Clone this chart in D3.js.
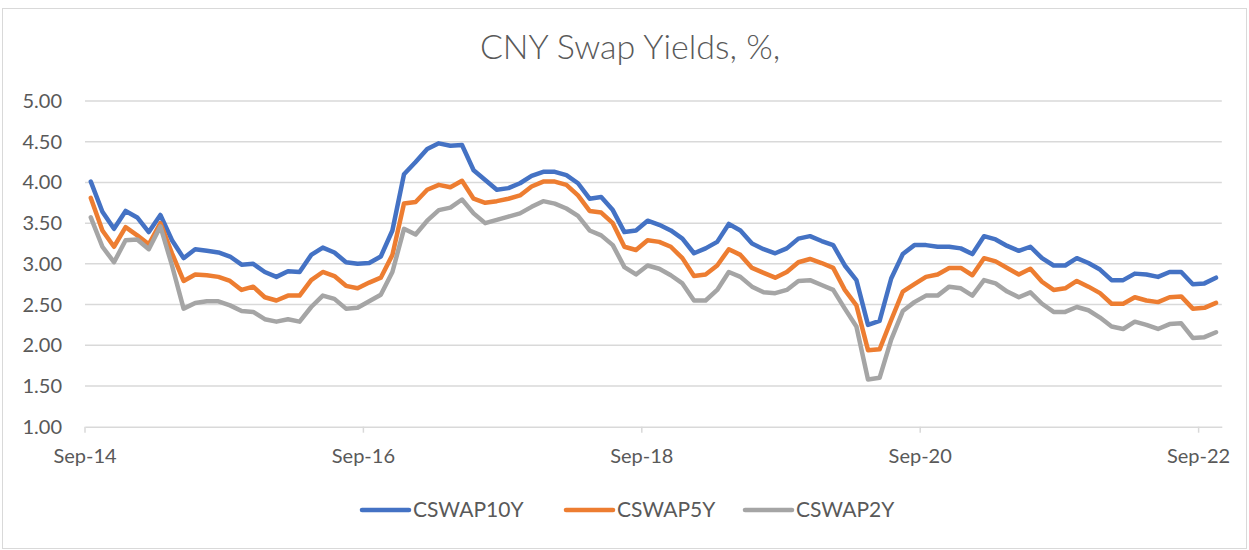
<!DOCTYPE html>
<html>
<head>
<meta charset="utf-8">
<script src="https://cdn.jsdelivr.net/npm/d3@7"></script>
<style>
  body { margin: 0; background: #fff; }
  svg text { font-family: Lato, "Open Sans", sans-serif; fill: #595959; }
</style>
</head>
<body>
<svg id="chart" width="1249" height="550"></svg>
<script>
// monthly observations, Sep-14 .. Oct-22
var startMonth = new Date(2014, 8, 1);
var endMonth = new Date(2022, 10, 1);

var cswap10y = [
  4.01, 3.64, 3.43, 3.65, 3.57, 3.39, 3.60, 3.29, 3.07, 3.18,
  3.16, 3.14, 3.09, 2.99, 3.00, 2.90, 2.84, 2.91, 2.90, 3.11,
  3.20, 3.14, 3.02, 3.00, 3.01, 3.09, 3.41, 4.10, 4.25, 4.41,
  4.48, 4.45, 4.46, 4.15, 4.03, 3.91, 3.93, 3.99, 4.08, 4.13,
  4.13, 4.09, 3.99, 3.80, 3.82, 3.66, 3.39, 3.41, 3.53, 3.48,
  3.41, 3.31, 3.13, 3.19, 3.27, 3.49, 3.41, 3.25, 3.18, 3.13,
  3.19, 3.31, 3.34, 3.28, 3.23, 2.98, 2.80, 2.25, 2.30, 2.82,
  3.12, 3.23, 3.23, 3.21, 3.21, 3.19, 3.12, 3.34, 3.30, 3.22,
  3.16, 3.21, 3.07, 2.98, 2.98, 3.07, 3.01, 2.93, 2.80, 2.80,
  2.88, 2.87, 2.84, 2.90, 2.90, 2.75, 2.76, 2.83
];
var cswap5y = [
  3.81, 3.41, 3.21, 3.45, 3.35, 3.24, 3.50, 3.13, 2.79, 2.87,
  2.86, 2.84, 2.79, 2.68, 2.72, 2.59, 2.55, 2.61, 2.61, 2.80,
  2.90, 2.85, 2.73, 2.70, 2.77, 2.83, 3.11, 3.74, 3.76, 3.91,
  3.97, 3.94, 4.02, 3.80, 3.75, 3.77, 3.80, 3.84, 3.95, 4.01,
  4.01, 3.97, 3.84, 3.65, 3.63, 3.50, 3.21, 3.17, 3.29, 3.27,
  3.21, 3.07, 2.85, 2.87, 2.98, 3.18, 3.11, 2.95, 2.89, 2.83,
  2.90, 3.02, 3.06, 3.01, 2.95, 2.68, 2.49, 1.94, 1.95, 2.31,
  2.66, 2.75, 2.84, 2.87, 2.95, 2.95, 2.86, 3.07, 3.03, 2.95,
  2.87, 2.94, 2.78, 2.68, 2.70, 2.79, 2.72, 2.64, 2.51, 2.51,
  2.59, 2.55, 2.53, 2.59, 2.60, 2.45, 2.46, 2.52
];
var cswap2y = [
  3.57, 3.21, 3.02, 3.29, 3.30, 3.18, 3.46, 2.98, 2.45, 2.52,
  2.54, 2.54, 2.49, 2.42, 2.41, 2.32, 2.29, 2.32, 2.29, 2.47,
  2.61, 2.57, 2.45, 2.46, 2.54, 2.62, 2.90, 3.43, 3.36, 3.53,
  3.66, 3.69, 3.79, 3.62, 3.50, 3.54, 3.58, 3.62, 3.70, 3.77,
  3.74, 3.68, 3.59, 3.41, 3.35, 3.23, 2.96, 2.87, 2.98, 2.94,
  2.86, 2.76, 2.55, 2.55, 2.68, 2.90, 2.84, 2.72, 2.65, 2.64,
  2.68, 2.79, 2.80, 2.74, 2.68, 2.45, 2.23, 1.58, 1.60, 2.07,
  2.42, 2.53, 2.61, 2.61, 2.72, 2.70, 2.61, 2.80, 2.76, 2.66,
  2.59, 2.65, 2.51, 2.41, 2.41, 2.47, 2.43, 2.34, 2.23, 2.20,
  2.29, 2.25, 2.20, 2.26, 2.27, 2.09, 2.10, 2.16
];

var seriesNames = ["CSWAP10Y", "CSWAP5Y", "CSWAP2Y"];
var seriesColors = ["#4472C4", "#ED7D31", "#A5A5A5"];
var yTicks = [1.00, 1.50, 2.00, 2.50, 3.00, 3.50, 4.00, 4.50, 5.00];
var xTickLabels = ["Sep-14", "Sep-16", "Sep-18", "Sep-20", "Sep-22"];

var svg = d3.select("#chart");
var fmtMonth = d3.timeFormat("%b-%y");
var months = d3.timeMonth.range(startMonth, endMonth);

var x = d3.scaleBand().domain(months.map(fmtMonth)).range([85, 1221.8]).padding(0);
var y = d3.scaleLinear().domain([1, 5]).range([426.7, 101]);

// outer frame
svg.append("rect")
  .attr("x", 2.5).attr("y", 8.5).attr("width", 1244).attr("height", 540)
  .attr("fill", "none").attr("stroke", "#D9D9D9").attr("stroke-width", 1);

svg.append("text")
  .attr("x", 630).attr("y", 59)
  .attr("text-anchor", "middle")
  .style("font-size", "34px").style("font-weight", 300)
  .text("CNY Swap Yields, %,");

// gridlines
svg.append("g").selectAll("line")
  .data(yTicks.slice(1))
  .enter().append("line")
  .attr("x1", 85).attr("x2", 1221.8)
  .attr("y1", function(d) { return y(d); })
  .attr("y2", function(d) { return y(d); })
  .attr("stroke", "#D9D9D9").attr("stroke-width", 1.5);

// y labels
svg.append("g").selectAll("text")
  .data(yTicks)
  .enter().append("text")
  .attr("x", 62)
  .attr("y", function(d) { return y(d); })
  .attr("dy", "0.35em")
  .attr("text-anchor", "end")
  .style("font-size", "20px")
  .text(function(d) { return d.toFixed(2); });

// x axis
var xAxis = d3.axisBottom(x)
  .tickValues(xTickLabels)
  .tickSize(6)
  .tickSizeOuter(0);
var gx = svg.append("g").attr("transform", "translate(0,426.7)").call(xAxis);
gx.select(".domain").attr("stroke", "#D9D9D9").attr("stroke-width", 1.5);
gx.selectAll(".tick")
  .attr("transform", function(d) { return "translate(" + x(d) + ",0)"; });
gx.selectAll(".tick line").attr("stroke", "#D9D9D9").attr("stroke-width", 1.5);
gx.selectAll(".tick text")
  .attr("y", 29).attr("dy", "0.35em")
  .style("font-size", "20px").style("fill", "#595959");

// lines
var allSeries = [cswap10y, cswap5y, cswap2y];
var line = d3.line()
  .x(function(d, i) { return x(fmtMonth(months[i])) + x.bandwidth() / 2; })
  .y(function(d) { return y(d); });

svg.append("g").selectAll("path")
  .data(allSeries)
  .enter().append("path")
  .attr("d", line)
  .attr("fill", "none")
  .attr("stroke", function(d, i) { return seriesColors[i]; })
  .attr("stroke-width", 4.5)
  .attr("stroke-linejoin", "round")
  .attr("stroke-linecap", "round");

// legend
var legendX = [362, 566, 745];
var leg = svg.append("g").selectAll("g")
  .data(seriesNames)
  .enter().append("g")
  .attr("transform", function(d, i) { return "translate(" + legendX[i] + ",510)"; });
leg.append("line")
  .attr("x1", 0).attr("x2", 47)
  .attr("stroke", function(d, i) { return seriesColors[i]; })
  .attr("stroke-width", 4.5).attr("stroke-linecap", "round");
leg.append("text")
  .attr("x", 51).attr("dy", "0.35em")
  .style("font-size", "21px")
  .text(function(d) { return d; });
</script>
</body>
</html>
